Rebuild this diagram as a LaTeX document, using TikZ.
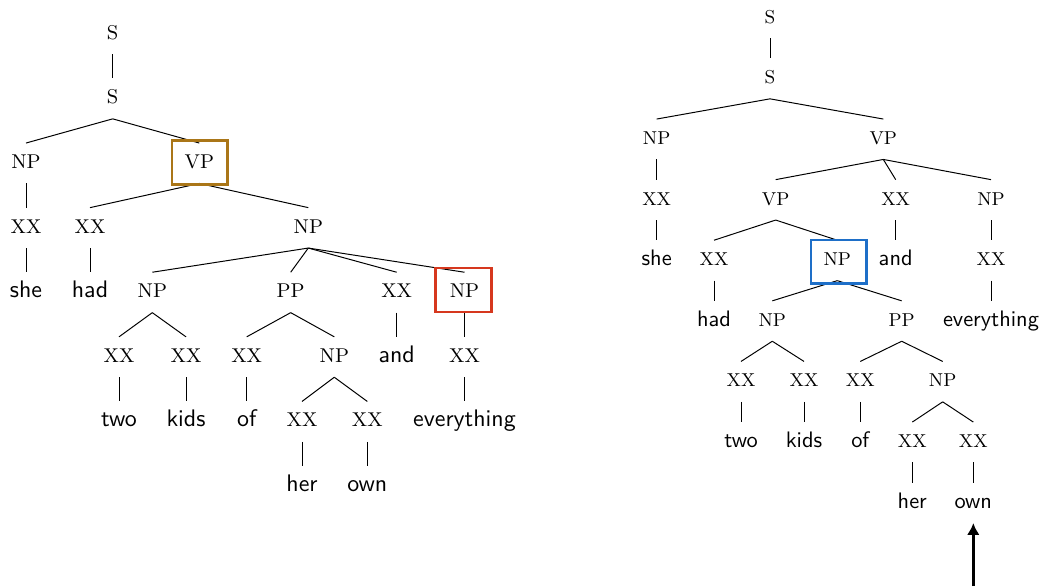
\documentclass[tikz,border=0pt]{standalone}
\usepackage{fontspec}
\usetikzlibrary{arrows.meta}
\definecolor{goldc}{RGB}{170,118,24}
\definecolor{redc}{RGB}{214,56,30}
\definecolor{bluec}{RGB}{30,111,200}
\begin{document}
\begin{tikzpicture}[x=0.016cm,y=-0.016cm,
  tn/.style={anchor=base, inner xsep=2pt, inner ysep=4.4pt, text height=7pt, text depth=2.2pt},
  lab/.style={tn, font=\fontsize{9.1}{11}\selectfont\rmfamily},
  wd/.style={tn, font=\fontsize{10.9}{13}\selectfont\sffamily},
  rlab/.style={tn, font=\fontsize{8.5}{10}\selectfont\rmfamily},
  rwd/.style={tn, font=\fontsize{10.2}{12}\selectfont\sffamily},
  br/.style={line width=0.45pt},
  hl/.style={draw, line width=1.2pt, minimum width=25.3pt, minimum height=19.9pt, inner sep=0pt},
  ]
\useasboundingbox (0,0) rectangle (1043,586);
% ---------------- left tree ----------------
\node[lab] (LS0) at (112.7,39.3) {S};
\node[lab] (LS1) at (112.7,103.9) {S};
\node[lab] (LNP1) at (26,168.5) {NP};
\node[lab] (LVP) at (199.3,168.5) {VP};
\node[lab] (LXX1) at (26,233.1) {XX};
\node[lab] (LXX2) at (90,233.1) {XX};
\node[lab] (LNP2) at (308.3,233.1) {NP};
\node[wd] (Lshe) at (26,297.7) {she};
\node[wd] (Lhad) at (90,297.7) {had};
\node[lab] (LNP3) at (152.3,297.7) {NP};
\node[lab] (LPP) at (290.7,297.7) {PP};
\node[lab] (LXX3) at (396.7,297.7) {XX};
\node[lab] (LNP4) at (464.5,297.7) {NP};
\node[lab] (LXX4) at (119,362.3) {XX};
\node[lab] (LXX5) at (186,362.3) {XX};
\node[lab] (LXX6) at (246.7,362.3) {XX};
\node[lab] (LNP5) at (334.3,362.3) {NP};
\node[wd] (Land) at (396.7,362.3) {and};
\node[lab] (LXX9) at (464.5,362.3) {XX};
\node[wd] (Ltwo) at (119,426.9) {two};
\node[wd] (Lkids) at (186,426.9) {kids};
\node[wd] (Lof) at (246.7,426.9) {of};
\node[lab] (LXX7) at (302,426.9) {XX};
\node[lab] (LXX8) at (367.3,426.9) {XX};
\node[wd] (Levery) at (464.5,426.9) {everything};
\node[wd] (Lher) at (302,491.5) {her};
\node[wd] (Lown) at (367.3,491.5) {own};
\foreach \a/\b in {LS0/LS1, LS1/LNP1, LS1/LVP, LNP1/LXX1, LXX1/Lshe,
  LVP/LXX2, LVP/LNP2, LXX2/Lhad, LNP2/LNP3, LNP2/LPP, LNP2/LXX3, LNP2/LNP4,
  LNP3/LXX4, LNP3/LXX5, LXX4/Ltwo, LXX5/Lkids, LPP/LXX6, LPP/LNP5, LXX6/Lof,
  LNP5/LXX7, LNP5/LXX8, LXX7/Lher, LXX8/Lown, LXX3/Land, LNP4/LXX9, LXX9/Levery}
  \draw[br] (\a.south) -- (\b.north);
\node[hl, draw=goldc] (boxVP) at (199.7,162.5) {};
\node[hl, draw=redc] (boxNP) at (463.5,290) {};
% ---------------- right tree ----------------
\node[rlab] (RS0) at (770,23.3) {S};
\node[rlab] (RS1) at (770,83.9) {S};
\node[rlab] (RNP1) at (656.7,144.5) {NP};
\node[rlab] (RVP1) at (883.3,144.5) {VP};
\node[rlab] (RXX1) at (656.7,205.1) {XX};
\node[rlab] (RVP2) at (775.7,205.1) {VP};
\node[rlab] (RXX2) at (895.7,205.1) {XX};
\node[rlab] (RNP2) at (991,205.1) {NP};
\node[rwd] (Rshe) at (656.7,265.7) {she};
\node[rlab] (RXX3) at (714,265.7) {XX};
\node[rlab] (RNP3) at (837.3,265.7) {NP};
\node[rwd] (Rand) at (895.7,265.7) {and};
\node[rlab] (RXX9) at (991,265.7) {XX};
\node[rwd] (Rhad) at (714,326.3) {had};
\node[rlab] (RNP4) at (772.3,326.3) {NP};
\node[rlab] (RPP) at (901.7,326.3) {PP};
\node[rwd] (Revery) at (991,326.3) {everything};
\node[rlab] (RXX4) at (741,386.9) {XX};
\node[rlab] (RXX5) at (804,386.9) {XX};
\node[rlab] (RXX6) at (860.3,386.9) {XX};
\node[rlab] (RNP5) at (942.7,386.9) {NP};
\node[rwd] (Rtwo) at (741,447.5) {two};
\node[rwd] (Rkids) at (804,447.5) {kids};
\node[rwd] (Rof) at (860.3,447.5) {of};
\node[rlab] (RXX7) at (912.3,447.5) {XX};
\node[rlab] (RXX8) at (973.3,447.5) {XX};
\node[rwd] (Rher) at (912.3,508.1) {her};
\node[rwd] (Rown) at (973.3,508.1) {own};
\foreach \a/\b in {RS0/RS1, RS1/RNP1, RS1/RVP1, RNP1/RXX1, RXX1/Rshe,
  RVP1/RVP2, RVP1/RXX2, RVP1/RNP2, RVP2/RXX3, RVP2/RNP3, RXX3/Rhad,
  RNP3/RNP4, RNP3/RPP, RNP4/RXX4, RNP4/RXX5, RXX4/Rtwo, RXX5/Rkids,
  RPP/RXX6, RPP/RNP5, RXX6/Rof, RNP5/RXX7, RNP5/RXX8, RXX7/Rher, RXX8/Rown,
  RXX2/Rand, RNP2/RXX9, RXX9/Revery}
  \draw[br] (\a.south) -- (\b.north);
\node[hl, draw=bluec] (boxRNP) at (838.8,261.8) {};
\coordinate (arrbase) at (973.3,586);
\draw[line width=1.2pt, -{Latex[length=5.4pt,width=5.8pt]}] (arrbase) -- (Rown.south);
\end{tikzpicture}
\end{document}
